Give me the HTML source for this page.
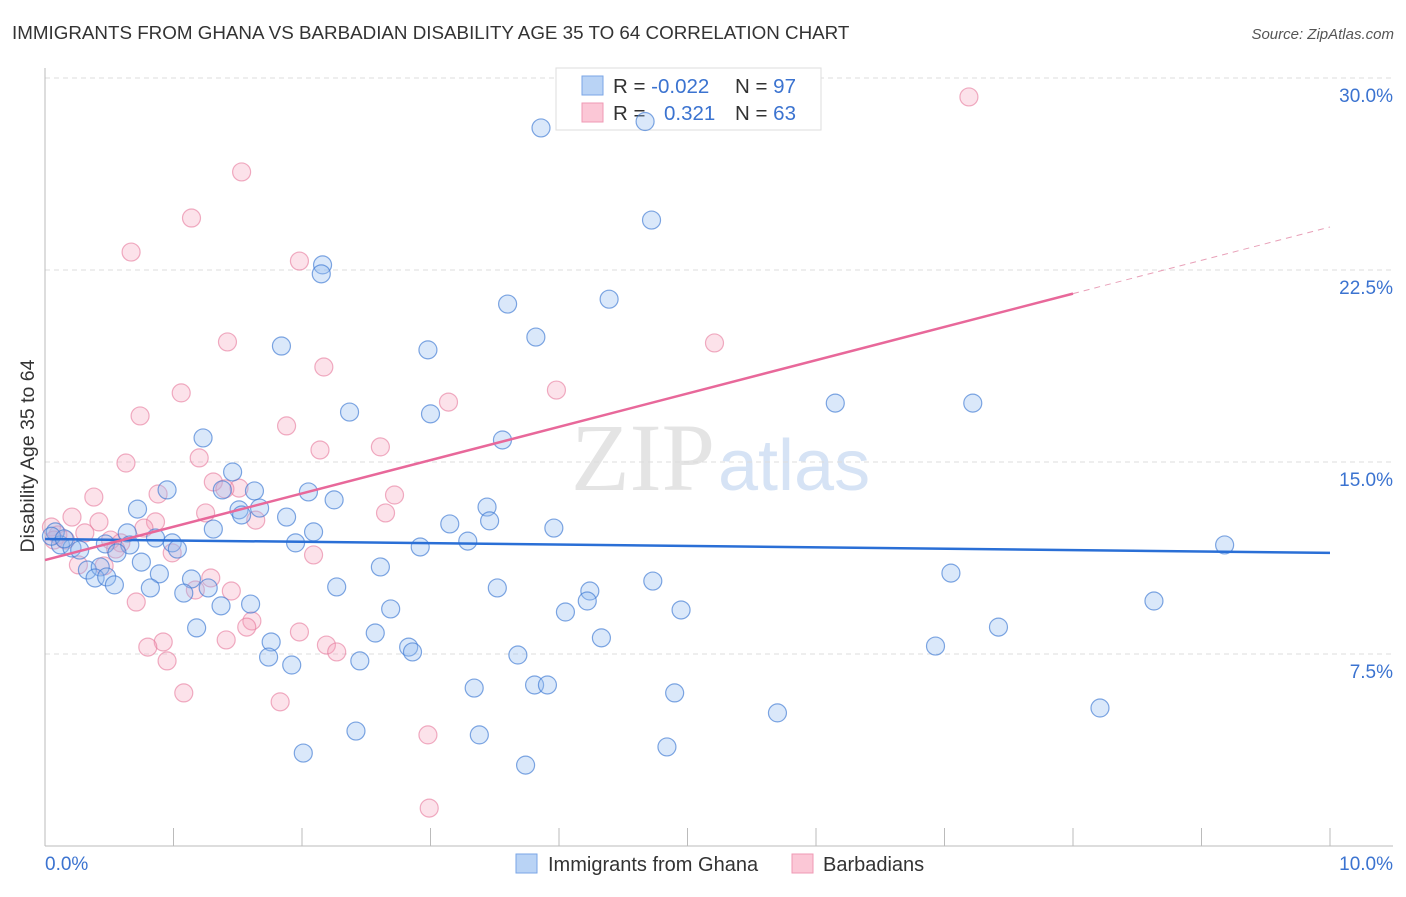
<!DOCTYPE html>
<html><head><meta charset="utf-8"><style>
body{margin:0;background:#fff;font-family:"Liberation Sans",sans-serif;}
</style></head><body>
<svg width="1406" height="892" xmlns="http://www.w3.org/2000/svg" style="font-family:'Liberation Sans',sans-serif">
<text x="12" y="39" font-size="18.8" fill="#333">IMMIGRANTS FROM GHANA VS BARBADIAN DISABILITY AGE 35 TO 64 CORRELATION CHART</text>
<text x="1394" y="39" font-size="15" fill="#555" font-style="italic" text-anchor="end">Source: ZipAtlas.com</text>
<text x="715" y="490" font-size="96" fill="#e4e4e4" text-anchor="end" font-family="'Liberation Serif',serif">ZIP</text>
<text x="718" y="490" font-size="72" fill="#d6e3f5">atlas</text>
<g id="grid"></g><g id="axes"></g>
<g>
<rect x="556" y="68" width="265" height="62" fill="#fff" stroke="#ddd"/>
<rect x="582" y="76" width="21" height="19" fill="#b9d3f5" stroke="#7aa6e6"/>
<rect x="582" y="103" width="21" height="19" fill="#fbc7d6" stroke="#ef9ab4"/>
<text x="613" y="93" font-size="20.5" fill="#333">R = <tspan fill="#3b73d0">-0.022</tspan></text>
<text x="735" y="93" font-size="20.5" fill="#333">N = <tspan fill="#3b73d0">97</tspan></text>
<text x="613" y="120" font-size="20.5" fill="#333">R = </text>
<text x="664" y="120" font-size="20.5" fill="#3b73d0">0.321</text>
<text x="735" y="120" font-size="20.5" fill="#333">N = <tspan fill="#3b73d0">63</tspan></text>
</g>
<g id="pink"></g><g id="blue"></g><g id="trend"></g>
<text x="34" y="456" font-size="19.5" fill="#333" transform="rotate(-90 34 456)" text-anchor="middle">Disability Age 35 to 64</text>
<text x="45" y="870" font-size="19" fill="#3b73d0">0.0%</text>
<text x="1393" y="870" font-size="19" fill="#3b73d0" text-anchor="end">10.0%</text>
<g>
<rect x="516" y="854" width="21" height="19" fill="#b9d3f5" stroke="#7aa6e6"/>
<text x="548" y="871" font-size="20" fill="#333">Immigrants from Ghana</text>
<rect x="792" y="854" width="21" height="19" fill="#fbc7d6" stroke="#ef9ab4"/>
<text x="823" y="871" font-size="20" fill="#333">Barbadians</text>
</g>
</svg>
<script>
const yTicks=[7.5,15,22.5,30];
const yTickLabels=["7.5%","15.0%","22.5%","30.0%"];
const blueX=[3.86,4.67,4.72,2.16,2.15,4.39,3.60,1.84,3.82,2.98,6.15,7.22,2.37,3.00,1.23,3.56,1.46,0.95,1.38,1.63,2.05,2.25,3.44,0.72,1.51,1.67,1.53,1.88,3.15,3.46,3.96,1.31,2.09,0.64,0.08,0.12,0.86,0.99,1.03,0.66,1.95,2.92,3.29,9.18,0.21,0.27,0.47,0.56,0.75,0.33,0.43,0.39,0.48,0.54,0.89,2.61,1.14,0.82,1.27,1.08,2.27,3.52,4.24,4.73,7.05,1.37,1.60,2.69,4.22,4.05,4.95,8.63,1.18,2.57,4.33,7.42,1.76,2.83,2.86,1.74,3.68,6.93,1.92,2.45,3.34,3.81,3.91,4.90,5.70,8.21,2.42,3.38,2.01,4.84,3.74,0.05,0.15];
const blueY=[28.05,28.3,24.45,22.7,22.35,21.36,21.17,19.53,19.88,19.38,17.3,17.3,16.95,16.88,15.94,15.86,14.61,13.91,13.91,13.87,13.83,13.52,13.24,13.16,13.13,13.2,12.93,12.85,12.58,12.7,12.42,12.38,12.27,12.23,12.27,11.76,12.03,11.84,11.6,11.76,11.84,11.68,11.91,11.76,11.64,11.56,11.8,11.45,11.09,10.78,10.9,10.47,10.51,10.2,10.63,10.9,10.43,10.08,10.08,9.88,10.12,10.08,9.96,10.35,10.66,9.38,9.45,9.26,9.57,9.14,9.22,9.57,8.52,8.32,8.13,8.55,7.97,7.77,7.58,7.38,7.46,7.81,7.07,7.23,6.17,6.29,6.29,5.98,5.2,5.39,4.49,4.34,3.63,3.87,3.16,12.1,12.0];
const pinkX=[7.19,1.53,1.14,0.67,1.98,1.42,5.21,2.17,3.98,1.06,3.14,0.74,1.88,2.61,2.14,0.63,1.20,1.31,1.51,1.40,0.88,0.38,2.72,0.21,0.42,1.25,1.64,2.65,0.86,0.77,0.31,0.05,0.10,0.51,0.59,0.55,0.99,2.09,0.26,0.46,1.29,1.45,1.17,0.71,1.61,1.57,1.98,0.92,0.80,2.19,1.41,2.27,0.95,1.08,1.83,2.98,2.99,0.07,0.16];
const pinkY=[29.26,26.33,24.53,23.2,22.85,19.69,19.65,18.71,17.81,17.7,17.34,16.8,16.41,15.59,15.47,14.96,15.16,14.22,13.98,13.95,13.75,13.63,13.71,12.85,12.66,13.01,12.73,13.01,12.66,12.42,12.23,12.46,12.15,11.95,11.84,11.6,11.45,11.37,10.98,10.94,10.47,9.96,10.0,9.53,8.79,8.55,8.36,7.97,7.77,7.85,8.05,7.58,7.23,5.98,5.63,4.34,1.48,11.95,11.95];
const blueTrend=[11.99,11.45];
const pinkTrend=[11.17,24.18];
const pinkSolidEnd=8.0;
const NS="http://www.w3.org/2000/svg";
const X0=45,X1=1330,Y0=846,PPY=25.6;
const sx=v=>X0+(X1-X0)*v/10, sy=v=>Y0-v*PPY;
function mk(tag,attrs,parent){const e=document.createElementNS(NS,tag);for(const k in attrs)e.setAttribute(k,attrs[k]);document.getElementById(parent).appendChild(e);return e;}
yTicks.forEach((t,i)=>{
 const l=mk('line',{x1:X0,x2:1393,y1:sy(t),y2:sy(t),stroke:'#ddd','stroke-dasharray':'5 4'},'grid');
 
 
 const tx=mk('text',{x:1393,y:sy(t)+24,'font-size':19,fill:'#3b73d0','text-anchor':'end'},'grid');
 tx.textContent=yTickLabels[i];
 
 
});
const ya=mk('line',{x1:X0,x2:X0,y1:68,y2:Y0,stroke:'#bbb'},'axes');


const xa=mk('line',{x1:X0,x2:1393,y1:Y0,y2:Y0,stroke:'#bbb'},'axes');


for(let i=1;i<=10;i++){const t=mk('line',{x1:sx(i),x2:sx(i),y1:Y0,y2:Y0-18,stroke:'#bbb'},'axes');
 
 }
pinkX.forEach((v,i)=>{const c=mk('circle',{cx:sx(v),cy:sy(pinkY[i]),r:9,fill:'rgba(244,160,186,0.3)',stroke:'rgba(230,120,155,0.6)','stroke-width':1.2},'pink');
 
 });
blueX.forEach((v,i)=>{const c=mk('circle',{cx:sx(v),cy:sy(blueY[i]),r:9,fill:'rgba(150,190,240,0.35)',stroke:'rgba(60,120,210,0.65)','stroke-width':1.2},'blue');
 
 });
const bt=mk('line',{x1:sx(0),y1:sy(blueTrend[0]),x2:sx(10),y2:sy(blueTrend[1]),stroke:'#2a6fd6','stroke-width':2.5},'trend');


const pe=pinkTrend[0]+(pinkTrend[1]-pinkTrend[0])*pinkSolidEnd/10;
const pt=mk('line',{x1:sx(0),y1:sy(pinkTrend[0]),x2:sx(pinkSolidEnd),y2:sy(pe),stroke:'#e8689a','stroke-width':2.5},'trend');


const pd=mk('line',{x1:sx(pinkSolidEnd),y1:sy(pe),x2:sx(10),y2:sy(pinkTrend[1]),stroke:'#e8a0b8','stroke-width':1,'stroke-dasharray':'6 5'},'trend');


</script>
</body></html>
